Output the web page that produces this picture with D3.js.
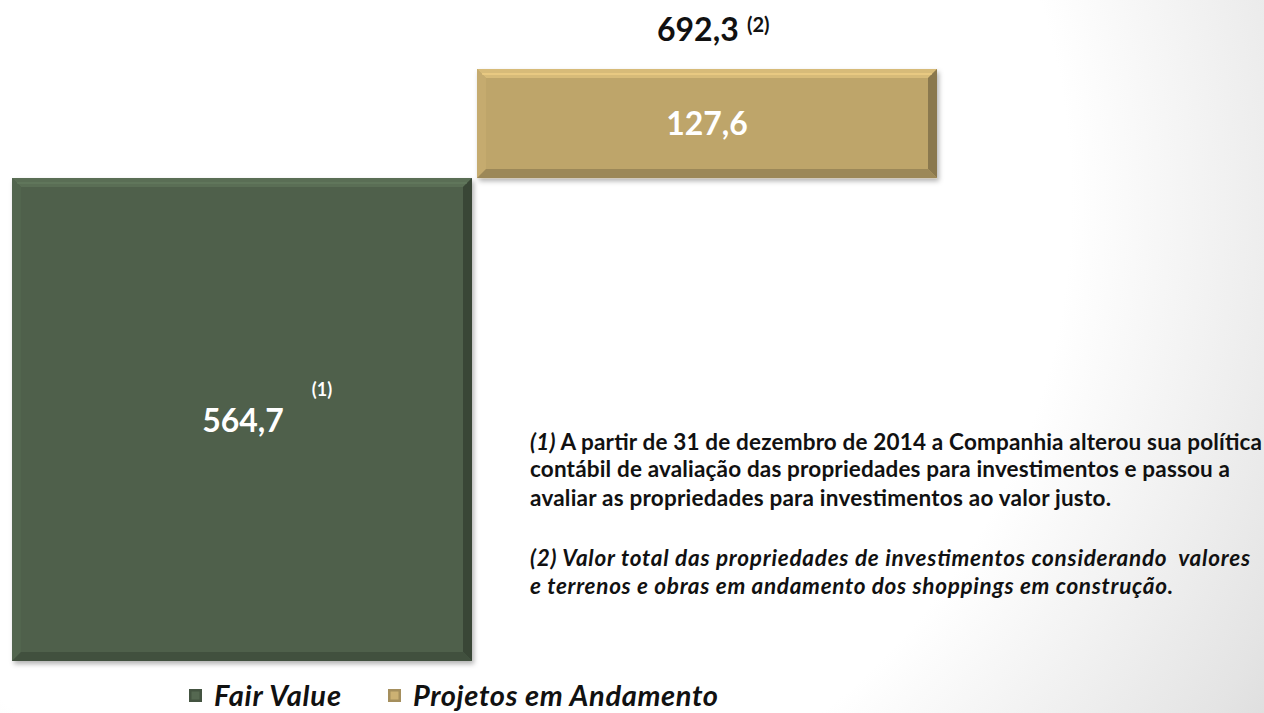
<!DOCTYPE html>
<html>
<head>
<meta charset="utf-8">
<script src="https://cdn.jsdelivr.net/npm/d3@7/dist/d3.min.js"></script>
<style>
  html, body { margin: 0; padding: 0; background: #fff; }
  svg { display: block; font-family: Lato, "Open Sans", sans-serif; }
</style>
</head>
<body>
<svg id="chart" width="1264" height="713"></svg>
<script>
// Investment properties (R$ millions)
const categories = ["Fair Value", "Projetos em Andamento"];
const values = [564.7, 127.6];
const valueLabels = ["564,7", "127,6"];
const colors = ["#4f614b", "#bea56b"];
const totalValue = 692.3;
const totalLabel = "692,3";
const footnotes = [
  [{t: "(1)", i: true}, {t: " A partir de 31 de dezembro de 2014 a Companhia alterou sua política", i: false}],
  [{t: "contábil de avaliação das propriedades para investimentos e passou a", i: false}],
  [{t: "avaliar as propriedades para investimentos ao valor justo.", i: false}],
  [{t: "(2) Valor total das propriedades de investimentos considerando  valores", i: true}],
  [{t: "e terrenos e obras em andamento dos shoppings em construção.", i: true}]
];

const svg = d3.select("#chart");
const W = 1264, H = 713;

// background: white fading to light grey toward the bottom-right corner
const defs = svg.append("defs");
const bg = defs.append("radialGradient").attr("id", "bg")
  .attr("gradientUnits", "userSpaceOnUse")
  .attr("cx", 420).attr("cy", 200).attr("r", 1050);
bg.append("stop").attr("offset", "0.62").attr("stop-color", "#ffffff");
bg.append("stop").attr("offset", "0.9").attr("stop-color", "#e4e4e4");
bg.append("stop").attr("offset", "1").attr("stop-color", "#d8d8d8");
svg.append("rect").attr("width", W).attr("height", H).attr("fill", "url(#bg)");

const shadow = defs.append("filter").attr("id", "shadow")
  .attr("x", "-5%").attr("y", "-5%").attr("width", "115%").attr("height", "115%");
shadow.append("feDropShadow").attr("dx", 2).attr("dy", 3).attr("stdDeviation", 2.5)
  .attr("flood-color", "#000").attr("flood-opacity", 0.3);

// stacked (waterfall) positions
let acc = 0;
const bars = categories.map((c, i) => {
  const b = {cat: c, v: values[i], y0: acc, y1: acc + values[i], label: valueLabels[i], color: colors[i]};
  acc += values[i];
  return b;
});

const x = d3.scaleBand().domain(categories).range([12, 937]).paddingInner(0.01075).paddingOuter(0);
const y = d3.scaleLinear().domain([0, totalValue]).range([661, 69]);

const bev = 9;
const g = svg.append("g");
bars.forEach(b => {
  const x0 = x(b.cat), x1 = x0 + x.bandwidth();
  const yt = y(b.y1), yb = y(b.y0);
  const grp = g.append("g");
  grp.append("rect").attr("x", x0).attr("y", yt).attr("width", x1 - x0).attr("height", yb - yt)
    .attr("fill", b.color).attr("filter", "url(#shadow)");
  const c = d3.color(b.color);
  const faces = [
    {p: [[x0, yt], [x1, yt], [x1 - bev, yt + bev], [x0 + bev, yt + bev]], f: c.brighter(0.35)},
    {p: [[x0, yt], [x0 + bev, yt + bev], [x0 + bev, yb - bev], [x0, yb]], f: c.brighter(0.1)},
    {p: [[x1, yt], [x1, yb], [x1 - bev, yb - bev], [x1 - bev, yt + bev]], f: c.darker(0.9)},
    {p: [[x0, yb], [x0 + bev, yb - bev], [x1 - bev, yb - bev], [x1, yb]], f: c.darker(0.55)}
  ];
  faces.forEach(fc => grp.append("path").attr("d", d3.line()(fc.p) + "Z").attr("fill", fc.f));
  // highlight line along top bevel
  grp.append("line").attr("x1", x0 + 5).attr("x2", x1 - 5).attr("y1", yt + 5).attr("y2", yt + 5)
    .attr("stroke", c.brighter(0.8)).attr("stroke-width", 1.5).attr("opacity", 0.6);
});

// value labels
const fv = bars[0], pa = bars[1];
svg.append("text").attr("x", x(fv.cat) + x.bandwidth() / 2 + 1).attr("y", 432)
  .attr("text-anchor", "middle").attr("fill", "#fff").attr("font-weight", 700)
  .attr("font-size", 32).text(fv.label);
svg.append("text").attr("x", 322).attr("y", 396)
  .attr("text-anchor", "middle").attr("fill", "#fff").attr("font-weight", 700)
  .attr("font-size", 18).text("(1)");
svg.append("text").attr("x", x(pa.cat) + x.bandwidth() / 2).attr("y", (y(pa.y1) + y(pa.y0)) / 2 + 11)
  .attr("text-anchor", "middle").attr("fill", "#fff").attr("font-weight", 700)
  .attr("font-size", 32).text(pa.label);

// total label above the stack
svg.append("text").attr("x", 657).attr("y", 41)
  .attr("fill", "#111").attr("font-weight", 700).attr("font-size", 32)
  .text(totalLabel);
svg.append("text").attr("x", 747).attr("y", 32)
  .attr("fill", "#111").attr("font-weight", 700).attr("font-size", 20)
  .text("(2)");

// footnotes
const fnY = [450, 477, 506, 566, 594];
const fnW = [732, 700, 581, 720, 643];
footnotes.forEach((line, i) => {
  const t = svg.append("text").attr("x", 530).attr("y", fnY[i])
    .attr("fill", "#111").attr("font-weight", 700).attr("font-size", 22.5)
    .attr("xml:space", "preserve")
    .attr("textLength", fnW[i]).attr("lengthAdjust", "spacing");
  line.forEach(s => t.append("tspan").attr("font-style", s.i ? "italic" : "normal").text(s.t));
});

// legend
const legX = [189, 388];
const legW = [127, 305];
categories.forEach((c, i) => {
  const lg = svg.append("g").attr("transform", `translate(${legX[i]},689)`);
  const col = d3.color(colors[i]);
  lg.append("rect").attr("width", 13).attr("height", 13).attr("fill", col.darker(0.4));
  lg.append("rect").attr("x", 2.5).attr("y", 2.5).attr("width", 8).attr("height", 8).attr("fill", col.brighter(0.2));
  lg.append("text").attr("x", 25).attr("y", 17).attr("fill", "#111")
    .attr("font-weight", 700).attr("font-style", "italic").attr("font-size", 29)
    .attr("textLength", legW[i]).text(c);
});
</script>
</body>
</html>
